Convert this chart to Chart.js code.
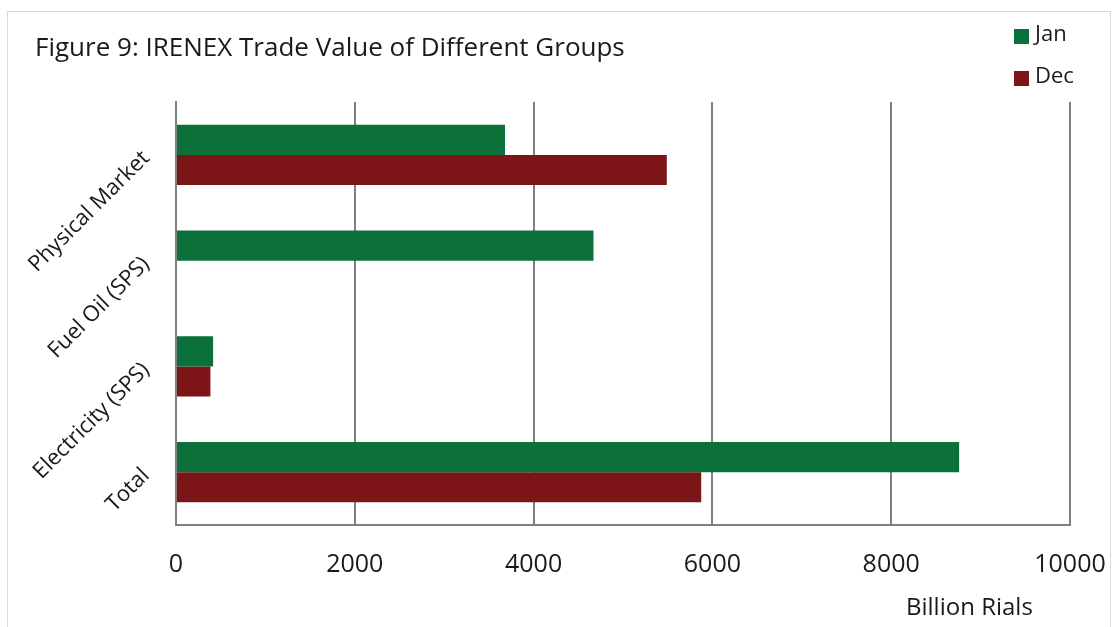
<!DOCTYPE html>
<html>
<head>
<meta charset="utf-8">
<script src="https://cdn.jsdelivr.net/npm/chart.js@4.4.1/dist/chart.umd.min.js"></script>
<style>
  html, body { margin: 0; padding: 0; background: #fff; }
  #wrap { position: relative; width: 1113px; height: 627px; overflow: hidden; font-family: "Open Sans", sans-serif; color: #1a1a1a; }
  #frame { position: absolute; left: 7px; top: 11px; width: 1104px; height: 640px; border: 1px solid #d9d9d9; box-sizing: border-box; }
  #title { position: absolute; left: 35px; top: 28px; font-size: 26px; white-space: nowrap; }
  #legend { position: absolute; left: 1014px; top: 23px; font-size: 22px; }
  .item { position: relative; height: 42px; }
  .box { position: absolute; left: 0; top: 6px; width: 15px; height: 15px; }
  .lbl { position: absolute; left: 21px; top: -6px; white-space: nowrap; }
  #xtitle { position: absolute; left: 906px; top: 589px; font-size: 24px; white-space: nowrap; }
  canvas { position: absolute; left: 0; top: 0; }
</style>
</head>
<body>
<div id="wrap">
  <div id="frame"></div>
  <canvas id="myChart" width="1113" height="627"></canvas>
  <div id="title">Figure 9: IRENEX Trade Value of Different Groups</div>
  <div id="legend"></div>
  <div id="xtitle">Billion Rials</div>
</div>
<script>
// datos
var categorias = ['Physical Market', 'Fuel Oil (SPS)', 'Electricity (SPS)', 'Total'];
var valoresJan = [3680, 4670, 415, 8760];
var valoresDec = [5490, null, 385, 5875];
var ticksX = [0, 2000, 4000, 6000, 8000, 10000];

var colorJan = '#0b7039';
var colorDec = '#7d1518';

function initializeChart() {
    var ctx = document.getElementById('myChart').getContext('2d');
    var myChart = new Chart(ctx, {
        type: 'bar',
        data: {
            labels: categorias,
            datasets: [{
                label: 'Jan',
                data: valoresJan,
                backgroundColor: colorJan,
                borderWidth: 0
            },
            {
                label: 'Dec',
                data: valoresDec,
                backgroundColor: colorDec,
                borderWidth: 0
            }]
        },
        options: {
            indexAxis: 'y',
            responsive: false,
            animation: false,
            layout: {
                padding: { top: 102, right: 43, bottom: 0, left: 0 }
            },
            datasets: {
                bar: { categoryPercentage: 0.57, barPercentage: 1 }
            },
            scales: {
                x: {
                    min: 0,
                    max: 10000,
                    afterBuildTicks: function (scale) {
                        scale.ticks = ticksX.map(function (v) { return { value: v }; });
                    },
                    afterFit: function (scale) {
                        scale.height = 102;
                        scale.paddingLeft = 0;
                        scale.paddingRight = 0;
                    },
                    grid: { color: '#808080', lineWidth: 2, drawTicks: false },
                    border: { color: '#808080', width: 2 },
                    ticks: {
                        padding: 25,
                        color: '#1a1a1a',
                        font: { family: 'Open Sans', size: 25 },
                        callback: function (value) { return String(value); }
                    }
                },
                y: {
                    afterFit: function (scale) { scale.width = 176; },
                    grid: { display: false },
                    border: { color: '#808080', width: 2 },
                    ticks: {
                        minRotation: 45,
                        maxRotation: 45,
                        padding: 22,
                        color: '#1a1a1a',
                        font: { family: 'Open Sans', size: 22 }
                    }
                }
            },
            plugins: {
                legend: { display: false },
                tooltip: { enabled: false }
            }
        }
    });

    // leyenda en html
    var legend = document.getElementById('legend');
    myChart.data.datasets.forEach(function (ds) {
        var item = document.createElement('div');
        item.className = 'item';
        item.innerHTML = '<span class="box" style="background:' + ds.backgroundColor + '"></span><span class="lbl">' + ds.label + '</span>';
        legend.appendChild(item);
    });
}

initializeChart();
</script>
</body>
</html>
